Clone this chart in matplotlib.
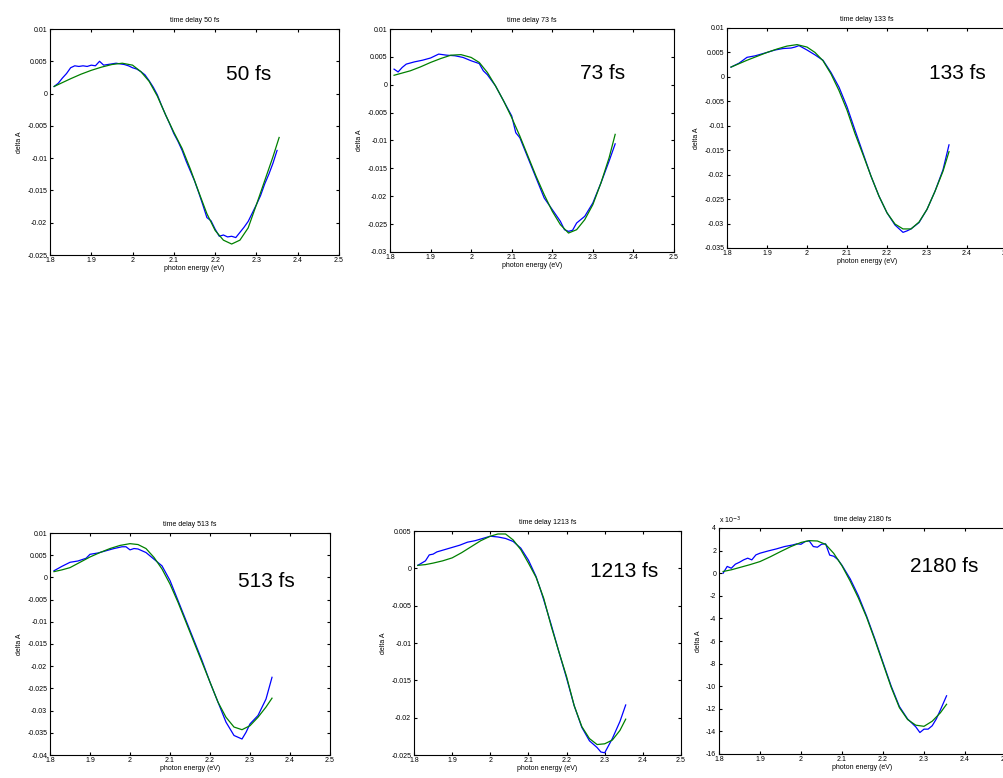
import matplotlib
matplotlib.use("Agg")
import matplotlib.pyplot as plt
from matplotlib.ticker import FuncFormatter, MultipleLocator

plt.rcParams["font.family"] = ["Liberation Sans", "DejaVu Sans"]
plt.rcParams["axes.unicode_minus"] = False
plt.rcParams["xtick.direction"] = "in"
plt.rcParams["ytick.direction"] = "in"
plt.rcParams["xtick.top"] = True
plt.rcParams["ytick.right"] = True
plt.rcParams["xtick.major.size"] = 2.5
plt.rcParams["ytick.major.size"] = 2.5
plt.rcParams["xtick.major.width"] = 0.8
plt.rcParams["ytick.major.width"] = 0.8
plt.rcParams["xtick.labelsize"] = 5
plt.rcParams["ytick.labelsize"] = 5
plt.rcParams["xtick.major.pad"] = 1.5
plt.rcParams["ytick.major.pad"] = 2
plt.rcParams["axes.linewidth"] = 0.8

# ---- data ----
delays = ["50", "73", "133", "513", "1213", "2180"]

# common energy grid for the fitted (green) curves
e_fit = [1.81, 1.83, 1.85, 1.875, 1.90, 1.925, 1.95, 1.975, 2.00, 2.02, 2.04, 2.06, 2.08, 2.10, 2.12,
         2.14, 2.16, 2.18, 2.20, 2.22, 2.24, 2.26, 2.28, 2.30, 2.32, 2.34, 2.355]

# 50 fs
e_b1 = [1.81, 1.82, 1.83, 1.84, 1.85, 1.86, 1.87, 1.88, 1.89, 1.90, 1.91, 1.92, 1.93, 1.94, 1.95,
        1.96, 1.97, 1.98, 1.99, 2.00, 2.01, 2.02, 2.03, 2.04, 2.05, 2.06, 2.07, 2.08, 2.09, 2.10,
        2.11, 2.12, 2.13, 2.14, 2.15, 2.16, 2.17, 2.18, 2.19, 2.20, 2.21, 2.22, 2.23, 2.24, 2.25,
        2.26, 2.27, 2.28, 2.29, 2.30, 2.31, 2.32, 2.33, 2.34, 2.35]
a_b1 = [0.0011, 0.0016, 0.0024, 0.0031, 0.0040, 0.0043, 0.0042, 0.0043, 0.0042, 0.0044, 0.0043, 0.0050, 0.0044, 0.0045, 0.0046,
        0.0047, 0.0046, 0.0045, 0.0043, 0.0040, 0.0038, 0.0034, 0.0029, 0.0020, 0.0010, -0.0002, -0.0018, -0.0033, -0.0047, -0.0062,
        -0.0074, -0.0088, -0.0105, -0.0120, -0.0135, -0.0153, -0.0172, -0.0192, -0.0197, -0.0210, -0.0221, -0.0219, -0.0222, -0.0221, -0.0223,
        -0.0215, -0.0207, -0.0198, -0.0185, -0.0172, -0.0158, -0.0140, -0.0125, -0.0108, -0.0088]
a_g1 = [0.0011, 0.0017, 0.0023, 0.0030, 0.0036, 0.0041, 0.0045, 0.0047, 0.0044, 0.0034, 0.0019, -0.0004, -0.0033, -0.0060, -0.0085,
        -0.0117, -0.0152, -0.0186, -0.0212, -0.0227, -0.0233, -0.0227, -0.0208, -0.0172, -0.0135, -0.0098, -0.0068]

# 73 fs
e_b2 = [1.81, 1.82, 1.83, 1.84, 1.86, 1.88, 1.90, 1.92, 1.94, 1.96, 1.98, 2.00, 2.02, 2.03, 2.04,
        2.06, 2.08, 2.10, 2.11, 2.12, 2.14, 2.16, 2.18, 2.20, 2.22, 2.23, 2.24, 2.25, 2.26, 2.28,
        2.30, 2.32, 2.34, 2.355]
a_b2 = [0.0028, 0.0023, 0.0031, 0.0037, 0.0041, 0.0044, 0.0048, 0.0055, 0.0053, 0.0052, 0.0049, 0.0043, 0.0038, 0.0025, 0.0018,
        -0.0002, -0.0029, -0.0056, -0.0086, -0.0095, -0.0131, -0.0167, -0.0203, -0.0224, -0.0245, -0.0260, -0.0263, -0.0261, -0.0248, -0.0236,
        -0.0212, -0.0176, -0.0137, -0.0106]
a_g2 = [0.0017, 0.0021, 0.0025, 0.0032, 0.0040, 0.0047, 0.0053, 0.0054, 0.0049, 0.0040, 0.0022, -0.0002, -0.0029, -0.0059, -0.0092,
        -0.0128, -0.0164, -0.0197, -0.0227, -0.0251, -0.0266, -0.0260, -0.0242, -0.0215, -0.0176, -0.0131, -0.0089]

# 133 fs
e_b3 = [1.81, 1.83, 1.85, 1.87, 1.90, 1.92, 1.94, 1.96, 1.97, 1.98, 2.00, 2.02, 2.04, 2.06, 2.08,
        2.10, 2.12, 2.14, 2.16, 2.18, 2.20, 2.22, 2.24, 2.25, 2.26, 2.28, 2.30, 2.32, 2.34, 2.355]
a_b3 = [0.0020, 0.0028, 0.0040, 0.0043, 0.0050, 0.0055, 0.0058, 0.0059, 0.0061, 0.0064, 0.0055, 0.0045, 0.0034, 0.0009, -0.0021,
        -0.0061, -0.0109, -0.0156, -0.0203, -0.0244, -0.0278, -0.0303, -0.0318, -0.0315, -0.0311, -0.0298, -0.0271, -0.0234, -0.0190, -0.0139]
a_g3 = [0.0020, 0.0027, 0.0034, 0.0042, 0.0050, 0.0057, 0.0063, 0.0066, 0.0061, 0.0050, 0.0033, 0.0006, -0.0028, -0.0068, -0.0116,
        -0.0159, -0.0203, -0.0244, -0.0278, -0.0301, -0.0311, -0.0311, -0.0297, -0.0271, -0.0234, -0.0193, -0.0153]

# 513 fs
e_b4 = [1.81, 1.82, 1.83, 1.85, 1.87, 1.89, 1.90, 1.92, 1.94, 1.96, 1.98, 1.99, 2.00, 2.01, 2.02,
        2.04, 2.06, 2.08, 2.10, 2.12, 2.14, 2.16, 2.18, 2.20, 2.22, 2.24, 2.26, 2.27, 2.28, 2.29,
        2.30, 2.32, 2.34, 2.355]
a_b4 = [0.0015, 0.0020, 0.0025, 0.0034, 0.0037, 0.0043, 0.0052, 0.0055, 0.0060, 0.0065, 0.0069, 0.0069, 0.0062, 0.0065, 0.0064,
        0.0056, 0.0041, 0.0026, -0.0007, -0.0052, -0.0097, -0.0142, -0.0187, -0.0236, -0.0281, -0.0326, -0.0356, -0.0360, -0.0364, -0.0349,
        -0.0330, -0.0311, -0.0274, -0.0225]
a_g4 = [0.0013, 0.0017, 0.0022, 0.0034, 0.0046, 0.0056, 0.0065, 0.0072, 0.0076, 0.0074, 0.0065, 0.0045, 0.0019, -0.0015, -0.0056,
        -0.0101, -0.0146, -0.0191, -0.0236, -0.0281, -0.0315, -0.0337, -0.0343, -0.0334, -0.0315, -0.0292, -0.0272]

# 1213 fs
e_b5 = [1.81, 1.82, 1.83, 1.84, 1.85, 1.86, 1.88, 1.90, 1.92, 1.94, 1.96, 1.98, 2.00, 2.02, 2.04,
        2.06, 2.08, 2.10, 2.12, 2.13, 2.14, 2.16, 2.18, 2.20, 2.22, 2.24, 2.26, 2.28, 2.29, 2.30,
        2.32, 2.34, 2.355]
a_b5 = [0.0004, 0.0007, 0.0010, 0.0018, 0.0019, 0.0022, 0.0025, 0.0028, 0.0031, 0.0035, 0.0037, 0.0040, 0.0043, 0.0042, 0.0040,
        0.0036, 0.0027, 0.0011, -0.0011, -0.0026, -0.0042, -0.0076, -0.0112, -0.0147, -0.0184, -0.0213, -0.0231, -0.0240, -0.0246, -0.0247,
        -0.0228, -0.0205, -0.0183]
a_g5 = [0.0004, 0.0005, 0.0007, 0.0010, 0.0014, 0.0021, 0.0029, 0.0037, 0.0043, 0.0046, 0.0046, 0.0038, 0.0025, 0.0007, -0.0012,
        -0.0040, -0.0078, -0.0112, -0.0145, -0.0184, -0.0212, -0.0228, -0.0236, -0.0235, -0.0230, -0.0217, -0.0202]

# 2180 fs (values in units of 1e-3)
e_b6 = [1.81, 1.82, 1.83, 1.84, 1.85, 1.86, 1.87, 1.88, 1.89, 1.90, 1.92, 1.94, 1.96, 1.98, 1.99,
        2.00, 2.01, 2.02, 2.03, 2.04, 2.05, 2.06, 2.07, 2.08, 2.09, 2.10, 2.12, 2.14, 2.16, 2.18,
        2.20, 2.22, 2.24, 2.26, 2.28, 2.29, 2.30, 2.31, 2.32, 2.33, 2.34, 2.355]
a_b6 = [0.0, 0.6, 0.44, 0.8, 0.97, 1.18, 1.33, 1.18, 1.62, 1.77, 1.97, 2.15, 2.36, 2.5, 2.6,
        2.56, 2.8, 2.86, 2.36, 2.3, 2.56, 2.6, 1.6, 1.5, 1.2, 0.7, -0.5, -2.0, -3.8, -5.8,
        -7.9, -10.0, -11.8, -12.9, -13.6, -14.1, -13.8, -13.8, -13.5, -12.9, -12.1, -10.85]
a_g6 = [0.15, 0.3, 0.5, 0.75, 1.03, 1.45, 1.91, 2.35, 2.72, 2.88, 2.85, 2.55, 1.75, 0.65, -0.7,
        -2.2, -3.9, -5.9, -8.0, -10.1, -11.9, -12.95, -13.45, -13.55, -13.1, -12.35, -11.6]

blue_e = [e_b1, e_b2, e_b3, e_b4, e_b5, e_b6]
blue_a = [a_b1, a_b2, a_b3, a_b4, a_b5, a_b6]
green_a = [a_g1, a_g2, a_g3, a_g4, a_g5, a_g6]

y_limits = [(-0.025, 0.01), (-0.03, 0.01), (-0.035, 0.01), (-0.04, 0.01), (-0.025, 0.005), (-16, 4)]
y_steps = [0.005, 0.005, 0.005, 0.005, 0.005, 2]

# axes boxes in pixels: left, top, right, bottom
boxes = [(50, 29, 339, 255), (390, 29, 674, 252), (727, 28, 1007, 248),
         (50, 533, 330, 755), (414, 531, 681, 755), (719, 528, 1006, 754)]
label_pos = [(0.61, 0.80), (0.67, 0.80), (0.72, 0.795), (0.67, 0.78), (0.66, 0.82), (0.665, 0.83)]

# MATLAB-like tick labels: 0.01, 0.005, 0, -0.005 ...
fmt = FuncFormatter(lambda v, p: "%g" % (round(v, 6) + 0.0))

W, H = 1004, 778
fig = plt.figure(figsize=(W / 100, H / 100), dpi=100)

for i in range(6):
    l, t, r, b = boxes[i]
    ax = fig.add_axes([l / W, (H - b) / H, (r - l) / W, (b - t) / H])
    ax.plot(blue_e[i], blue_a[i], color=(0, 0, 1), lw=0.9)
    ax.plot(e_fit, green_a[i], color=(0, 0.5, 0), lw=0.9)
    ax.set_xlim(1.8, 2.5)
    ax.set_ylim(*y_limits[i])
    ax.xaxis.set_major_locator(MultipleLocator(0.1))
    ax.yaxis.set_major_locator(MultipleLocator(y_steps[i]))
    ax.xaxis.set_major_formatter(fmt)
    ax.yaxis.set_major_formatter(fmt)
    ax.set_title("time delay " + delays[i] + " fs", fontsize=5, pad=5)
    ax.set_xlabel("photon energy (eV)", fontsize=5, labelpad=1)
    ax.set_ylabel("delta A", fontsize=5, labelpad=3)
    ax.text(label_pos[i][0], label_pos[i][1], delays[i] + " fs", transform=ax.transAxes,
            fontsize=15, va="center", ha="left")
    if i == 5:
        ax.text(0.0, 1.01, r"x 10$^{-3}$", transform=ax.transAxes, fontsize=5,
                ha="left", va="bottom")

fig.savefig("out.png", dpi=100)
